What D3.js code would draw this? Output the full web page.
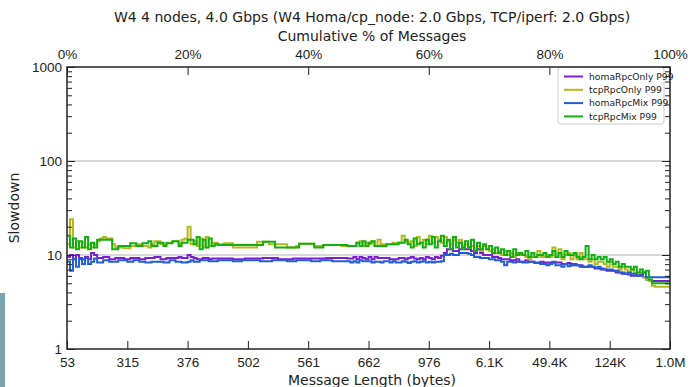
<!DOCTYPE html>
<html>
<head>
<meta charset="utf-8">
<script src="https://cdn.jsdelivr.net/npm/d3@7"></script>
<style>
  body { margin: 0; background: #fff; }
  svg { font-family: "DejaVu Sans", sans-serif; }
</style>
</head>
<body>
<div id="app"></div>
<script>
// cumulative % of messages, one step per 0.5%
const pct = d3.range(0, 100, 0.5)

const bottomLabels = ["53", "315", "376", "502", "561", "662", "976", "6.1K", "49.4K", "124K", "1.0M"]
const topTicks = [0, 20, 40, 60, 80, 100]

// P99 slowdown per step, 20 values per row = 10%
const homaRpcOnly = [
  9.5, 10, 9, 10, 9.3, 9, 9.5, 9, 10.5, 10, 9.3, 9.3, 9.5, 9.5, 9, 9, 9.3, 9.3, 9.3, 9,
  9, 9.3, 9.3, 9.3, 9, 9, 9.3, 9.3, 9.3, 9.5, 9.5, 9, 9, 9.3, 9.3, 9.3, 9.3, 9.5, 9.3, 9.3,
  10, 9.5, 9.3, 9, 9, 9.3, 9.3, 9, 9.2, 9.2, 9.2, 9.2, 9.2, 9.2, 9.2, 9, 9, 9, 9, 9.2,
  9.2, 9.2, 9.2, 9.2, 9.2, 9.3, 9.3, 9.3, 9.3, 9.3, 9, 9, 9, 9, 9, 9.2, 9.2, 9.2, 9.2, 9.2,
  9.2, 9.2, 9.2, 9.2, 9.2, 9.2, 9.3, 9.3, 9.3, 9.3, 9.3, 9.3, 9.3, 9.2, 9.2, 9.5, 9, 9.5, 9.3, 9,
  9.5, 9, 9.5, 9.3, 9.3, 9.3, 9.3, 9, 9, 9, 9.3, 9.3, 9, 9.3, 9.5, 9.2, 9, 9.3, 9, 9.5,
  9.3, 9, 9.5, 9.3, 9.8, 10.5, 11.5, 11.5, 11, 11, 11.5, 12, 11.5, 11.5, 11, 10.5, 11.5, 10.5, 10, 10,
  10, 9.5, 9.5, 9.3, 9, 9, 9, 8.8, 8.8, 9, 8.5, 8.5, 8.8, 8.5, 8.5, 8.3, 8.3, 8.5, 8.3, 8.3,
  8.3, 8.5, 8.3, 8.3, 8, 8, 8.2, 8, 7.8, 7.8, 7.8, 7.5, 7.5, 7.5, 7.5, 7.2, 7.2, 7, 7, 6.8,
  6.8, 6.8, 6.5, 6.5, 6.3, 6.3, 6.2, 6, 6, 6, 6.2, 5.8, 5.5, 5.3, 5.3, 5.3, 5.3, 5.3, 5.3, 5.3
]
const tcpRpcOnly = [
  13, 24, 12, 14, 12, 13.5, 12, 13, 12, 13, 14, 15, 15.5, 15, 15, 13, 12, 12, 12, 11.8,
  11.8, 12.5, 12.5, 13, 13, 12.5, 12.5, 12, 13, 14, 14, 13, 13, 13.5, 13.5, 14, 14, 13, 14.5, 15,
  20, 13, 14, 12.5, 15, 12, 15.5, 12.5, 13.5, 13.5, 13, 13, 13.3, 13.3, 13.3, 12, 12, 12, 12, 12,
  12, 12, 12, 13.8, 13.8, 13.8, 13.8, 13, 13, 13, 13, 13, 13, 12, 12, 12, 12.5, 13.2, 13.2, 13.2,
  13.2, 13.2, 12.5, 12.5, 12.5, 12.8, 12.8, 12.8, 12.8, 12.8, 12.8, 12.5, 12.5, 12.5, 12.5, 12.5, 13.5, 14, 12.5, 13.5,
  13, 14, 12.5, 14.5, 13, 13, 13, 13, 13.5, 13.5, 13.5, 16, 14, 13.5, 14, 12.5, 15.5, 13.5, 14.5, 13,
  16, 13.5, 15.5, 14.5, 13.5, 15.5, 14, 13, 14.5, 13.5, 14.5, 12.5, 13, 12, 12.5, 11.5, 12.5, 11, 12.5, 11.5,
  11, 11.5, 10.5, 11, 10, 11, 10, 10.5, 9.5, 10.5, 10, 10, 9.5, 9, 9.5, 9.5, 11, 9.5, 9.5, 10,
  9.5, 12, 9.5, 11.5, 9, 10, 10.5, 9, 10, 9, 10.5, 9, 9, 8.5, 9, 8, 8.5, 8.5, 8, 7.5,
  8.5, 7.5, 7.5, 7, 7.5, 7, 6.5, 7, 6.5, 6.5, 6.5, 5.8, 5.5, 5.3, 4.7, 4.6, 4.6, 4.6, 4.6, 4.6
]
const homaRpcMix = [
  8.5, 6.8, 9, 7.5, 9, 8, 9.3, 8, 8.5, 9.2, 8.3, 8.3, 8.8, 8.8, 8.5, 8.5, 8.5, 8.8, 8.8, 8.8,
  8.5, 8.5, 8.8, 8.8, 8.5, 8.5, 8.3, 8.3, 8.5, 8.5, 8.5, 8.5, 8.3, 8.3, 8.8, 8.8, 8.5, 8.5, 8.3, 8.3,
  8.5, 8.8, 8.5, 8.5, 8.8, 8.8, 8.8, 8.6, 8.6, 8.6, 8.8, 8.8, 8.8, 8.8, 8.8, 8.6, 8.6, 8.6, 8.8, 8.8,
  8.8, 8.8, 8.8, 8.8, 8.6, 8.6, 8.6, 8.6, 8.8, 8.8, 8.8, 8.8, 8.8, 8.6, 8.6, 8.6, 8.8, 8.8, 8.8, 8.8,
  8.8, 8.6, 8.6, 8.6, 8.8, 8.8, 8.8, 8.8, 8.6, 8.6, 8.6, 8.6, 8.6, 8.6, 8.3, 8.6, 8.3, 8.8, 8.6, 8.6,
  8.6, 8.3, 8.5, 8.5, 8.3, 8.6, 8.6, 8.3, 8.6, 8.3, 8.3, 8.6, 8.5, 8.2, 8.5, 8.6, 8.3, 8.5, 8.6, 8.3,
  8.5, 8.3, 8.5, 8.5, 8.6, 10, 10, 10.3, 10, 10, 10.5, 10.5, 10.5, 10.3, 10, 9.5, 9.5, 9.3, 9.3, 9.3,
  9, 9, 8.8, 8.8, 8.5, 7.8, 8.5, 8.5, 8.3, 8.5, 8.5, 8.3, 8.3, 8.5, 8.5, 8.2, 8.2, 8, 8, 7.8,
  8, 8.3, 7.8, 7.8, 7.5, 8, 7.6, 7.8, 8, 7.8, 7.5, 7.5, 7.5, 7.8, 7.5, 7.3, 7.5, 7.2, 7, 7,
  7, 6.8, 6.8, 6.5, 6.5, 6.3, 6.5, 6.3, 6.3, 6, 6, 6.5, 5.8, 5.8, 5.8, 5.8, 5.8, 5.8, 5.8, 5.8
]
const tcpRpcMix = [
  16, 12, 15, 11.5, 14, 12, 15.5, 11.5, 13.5, 12, 14.5, 14.5, 14.5, 14.5, 14.5, 11.5, 11.5, 12.5, 12.5, 12.5,
  12.5, 13.3, 13.3, 12.5, 12.5, 13.3, 13.3, 14, 12.5, 12.5, 13.5, 13.5, 12.5, 13.3, 13.3, 14, 14, 12.5, 13.5, 13.5,
  14.5, 14.5, 13, 15.5, 11.5, 14.5, 12, 15, 12.5, 13, 12.8, 12.8, 12.8, 12.8, 12.8, 12.8, 12.8, 12.8, 12.8, 12.8,
  12.8, 12.8, 12.8, 12.8, 12.8, 13.8, 13.8, 13.8, 13.8, 12, 12, 12, 12, 12, 12, 12, 12, 13.2, 13.2, 13.2,
  13.2, 13.2, 12, 12, 12, 12.8, 12.8, 12.8, 12.8, 12.8, 12.8, 12.8, 12.8, 12.5, 12.5, 12.5, 13.5, 12.5, 14, 12.5,
  13.5, 14, 12.5, 12.5, 12.5, 12.5, 13, 13, 13, 13, 13.5, 13.5, 14.5, 13, 12, 15, 13, 13.5, 12, 14.5,
  13, 15.5, 12, 14, 16, 12.5, 14.5, 11.5, 15.5, 12, 13.5, 11.5, 14, 12, 14.5, 11, 13.5, 11.5, 13, 11.5,
  12.5, 10.5, 12, 10.5, 11.5, 10, 11, 9.5, 11.5, 10, 10.5, 10, 11, 9.5, 10.5, 9.5, 10, 10, 10.5, 9.5,
  10, 11, 9.5, 10.5, 9.5, 11, 10, 10, 10.5, 9.5, 9, 9.5, 12.5, 9, 10, 9, 9.5, 9, 9.5, 8.5,
  9, 8, 8.5, 7.5, 8, 7.5, 7.5, 7, 7.5, 6.5, 7, 6.5, 6.8, 5.5, 5, 5, 5, 5, 5, 5
]

const series = [
  { name: "homaRpcOnly P99", color: "#7b1fd1", values: homaRpcOnly },
  { name: "tcpRpcOnly P99", color: "#b6b61e", values: tcpRpcOnly },
  { name: "homaRpcMix P99", color: "#1f5fcf", values: homaRpcMix },
  { name: "tcpRpcMix P99", color: "#0fb00f", values: tcpRpcMix },
]

const W = 694, H = 387
const m = { left: 67, right: 24, top: 67, bottom: 38 }

const svg = d3.select("#app").append("svg")
    .attr("width", W)
    .attr("height", H)

// little teal strip at the lower left edge
svg.append("rect")
    .attr("x", 0).attr("y", 293).attr("width", 5).attr("height", 94)
    .attr("fill", "#7aa5ae")

const x = d3.scaleLinear().domain([0, 100]).range([m.left, W - m.right])
const y = d3.scaleLog().domain([1, 1000]).range([H - m.bottom, m.top])

const g = svg.append("g")

// gridlines at the decades
g.selectAll("line.grid")
  .data([10, 100])
  .join("line")
    .attr("class", "grid")
    .attr("x1", x(0)).attr("x2", x(100))
    .attr("y1", d => y(d)).attr("y2", d => y(d))
    .attr("stroke", "#b0b0b0")
    .attr("stroke-width", 1)

const line = d3.line()
    .x(d => x(d[0]))
    .y(d => y(d[1]))
    .curve(d3.curveStepAfter)

series.forEach(s => {
  const pts = pct.map((p, i) => [p, s.values[i]])
  pts.push([100, s.values[s.values.length - 1]])
  g.append("path")
      .datum(pts)
      .attr("fill", "none")
      .attr("stroke", s.color)
      .attr("stroke-width", 2)
      .attr("stroke-linejoin", "miter")
      .attr("d", line)
})

// legend (drawn under the axis ticks)
const lg = svg.append("g").attr("transform", "translate(558,67)")
lg.append("rect")
    .attr("width", 106).attr("height", 57).attr("rx", 3)
    .attr("fill", "#fff").attr("fill-opacity", 0.8)
    .attr("stroke", "#ccc")
series.forEach((s, i) => {
  const yy = 9.5 + i * 13.3
  lg.append("line").attr("x1", 6).attr("x2", 25).attr("y1", yy).attr("y2", yy)
      .attr("stroke", s.color).attr("stroke-width", 2)
  lg.append("text").attr("x", 31).attr("y", yy + 3.3)
      .attr("font-size", 9.2).attr("fill", "#222")
      .text(s.name)
})

// axes, ticks drawn inward like matplotlib "in"
const tickFont = 13.5

const yLeft = d3.axisLeft(y).tickValues([1, 10, 100, 1000]).tickFormat(d3.format("d")).tickSizeInner(-8).tickSizeOuter(0).tickPadding(5)
const yl = svg.append("g").attr("transform", `translate(${m.left},0)`).call(yLeft)
yl.select(".domain").remove()
yl.selectAll("text").attr("font-size", tickFont).attr("fill", "#222")

const minors = []
for (let dec = 1; dec < 1000; dec *= 10)
  for (let k = 2; k <= 9; k++) minors.push(dec * k)

const yLeftMinor = d3.axisLeft(y).tickValues(minors).tickFormat("").tickSizeInner(-5).tickSizeOuter(0)
svg.append("g").attr("transform", `translate(${m.left},0)`).call(yLeftMinor).select(".domain").remove()

const yRight = d3.axisRight(y).tickValues([1, 10, 100, 1000]).tickFormat("").tickSizeInner(-8).tickSizeOuter(0)
svg.append("g").attr("transform", `translate(${W - m.right},0)`).call(yRight).select(".domain").remove()
const yRightMinor = d3.axisRight(y).tickValues(minors).tickFormat("").tickSizeInner(-5).tickSizeOuter(0)
svg.append("g").attr("transform", `translate(${W - m.right},0)`).call(yRightMinor).select(".domain").remove()

const xb = d3.axisBottom(x).tickValues(d3.range(0, 101, 10)).tickFormat((d, i) => bottomLabels[i]).tickSizeInner(-8).tickSizeOuter(0).tickPadding(8)
const xbg = svg.append("g").attr("transform", `translate(0,${H - m.bottom})`).call(xb)
xbg.select(".domain").remove()
xbg.selectAll("text").attr("font-size", tickFont).attr("fill", "#222")

const xt = d3.axisTop(x).tickValues(topTicks).tickFormat(d => d + "%").tickSizeInner(-8).tickSizeOuter(0).tickPadding(8)
const xtg = svg.append("g").attr("transform", `translate(0,${m.top})`).call(xt)
xtg.select(".domain").remove()
xtg.selectAll("text").attr("font-size", tickFont).attr("fill", "#222")

svg.selectAll(".tick line").attr("stroke", "#222")

// frame
svg.append("rect")
    .attr("x", x(0)).attr("y", y(1000))
    .attr("width", x(100) - x(0)).attr("height", y(1) - y(1000))
    .attr("fill", "none").attr("stroke", "#222").attr("stroke-width", 1.5)

// labels
svg.append("text").attr("x", 372).attr("y", 22).attr("text-anchor", "middle")
    .attr("font-size", 14).attr("fill", "#222")
    .text("W4 4 nodes, 4.0 Gbps (W4 Homa/cp_node: 2.0 Gbps, TCP/iperf: 2.0 Gbps)")
svg.append("text").attr("x", 372).attr("y", 41).attr("text-anchor", "middle")
    .attr("font-size", 14).attr("fill", "#222")
    .text("Cumulative % of Messages")
svg.append("text").attr("x", 372).attr("y", 385).attr("text-anchor", "middle")
    .attr("font-size", 14).attr("fill", "#222")
    .text("Message Length (bytes)")
svg.append("text")
    .attr("transform", `translate(19,${(m.top + H - m.bottom) / 2}) rotate(-90)`)
    .attr("text-anchor", "middle")
    .attr("font-size", 14).attr("fill", "#222")
    .text("Slowdown")
</script>
</body>
</html>
